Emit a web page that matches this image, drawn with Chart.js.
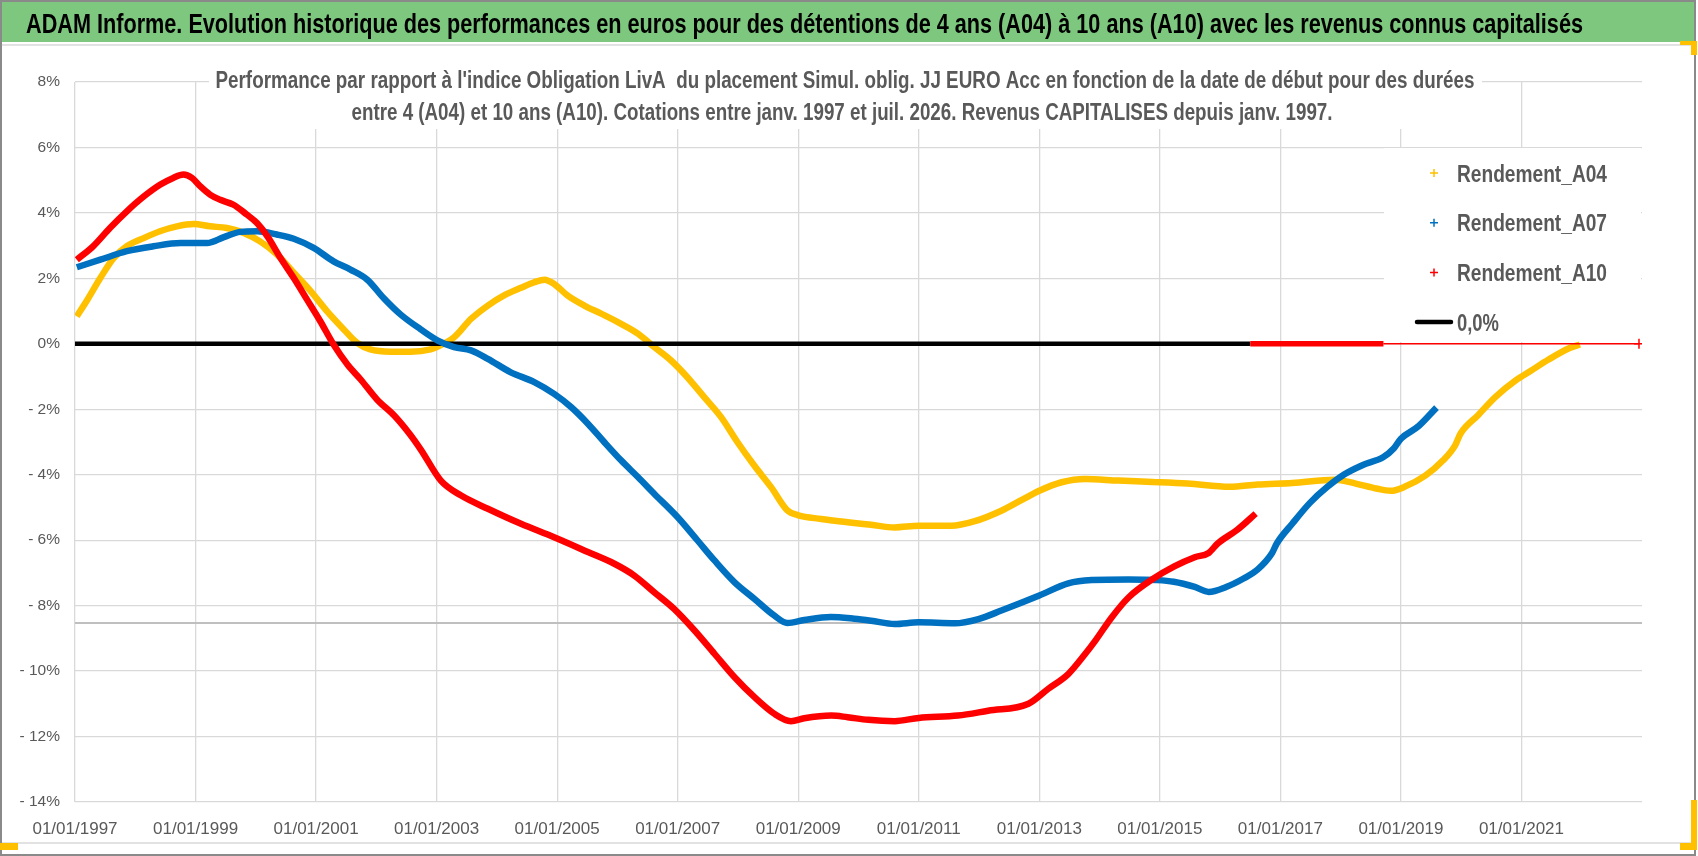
<!DOCTYPE html>
<html lang="fr">
<head>
<meta charset="utf-8">
<title>ADAM Informe - Rendements A04 / A07 / A10</title>
<script src="https://cdn.jsdelivr.net/npm/chart.js@4.4.1/dist/chart.umd.min.js"></script>
<style>
  html, body { margin: 0; padding: 0; background: #fff; }
  canvas { display: block; }
</style>
</head>
<body>
<canvas id="chart" width="1698" height="856"></canvas>
<script>
// ---- texts ----
const titleText = "ADAM Informe. Evolution historique des performances en euros pour des détentions de 4 ans (A04) à 10 ans (A10) avec les revenus connus capitalisés";
const subtitleLines = [
  "Performance par rapport à l'indice Obligation LivA  du placement Simul. oblig. JJ EURO Acc en fonction de la date de début pour des durées",
  "entre 4 (A04) et 10 ans (A10). Cotations entre janv. 1997 et juil. 2026. Revenus CAPITALISES depuis janv. 1997."
];

// ---- axes ----
const xTickYears = [1997, 1999, 2001, 2003, 2005, 2007, 2009, 2011, 2013, 2015, 2017, 2019, 2021];
const xTickLabels = ['01/01/1997', '01/01/1999', '01/01/2001', '01/01/2003', '01/01/2005', '01/01/2007',
  '01/01/2009', '01/01/2011', '01/01/2013', '01/01/2015', '01/01/2017', '01/01/2019', '01/01/2021'];
const yTickValues = [8, 6, 4, 2, 0, -2, -4, -6, -8, -10, -12, -14];
const yTickLabels = ['8%', '6%', '4%', '2%', '0%', '- 2%', '- 4%', '- 6%', '- 8%', '- 10%', '- 12%', '- 14%'];

// ---- series (start date as decimal year, performance in %) ----
const a04Years = [1997.03, 1997.19, 1997.42, 1997.64, 1997.86, 1998.14, 1998.41, 1998.69, 1998.97, 1999.24,
  1999.52, 1999.80, 2000.07, 2000.35, 2000.63, 2000.91, 2001.18, 2001.46, 2001.68, 2001.90,
  2002.24, 2002.57, 2002.90, 2003.00, 2003.29, 2003.57, 2003.85, 2004.12, 2004.40, 2004.62,
  2004.79, 2004.95, 2005.17, 2005.45, 2005.73, 2006.06, 2006.34, 2006.61, 2006.89, 2007.16,
  2007.44, 2007.72, 2007.99, 2008.27, 2008.55, 2008.82, 2009.00, 2009.38, 2009.82, 2010.21,
  2010.60, 2011.00, 2011.54, 2011.93, 2012.37, 2012.71, 2013.00, 2013.37, 2013.76, 2014.31,
  2014.88, 2015.46, 2016.16, 2016.62, 2017.20, 2017.90, 2018.25, 2018.59, 2018.83, 2019.06,
  2019.41, 2019.70, 2019.90, 2019.99, 2020.28, 2020.57, 2020.91, 2021.15, 2021.45, 2021.80, 2021.97];
const a04Values = [0.84, 1.30, 2.01, 2.62, 2.98, 3.23, 3.44, 3.59, 3.66, 3.59,
  3.54, 3.39, 3.13, 2.73, 2.17, 1.61, 1.00, 0.44, 0.03, -0.17,
  -0.24, -0.24, -0.17, -0.10, 0.20, 0.76, 1.17, 1.48, 1.71, 1.88,
  1.96, 1.83, 1.48, 1.17, 0.92, 0.61, 0.31, -0.10, -0.51, -1.02,
  -1.63, -2.24, -3.00, -3.72, -4.38, -5.09, -5.24, -5.35, -5.45, -5.53,
  -5.61, -5.56, -5.56, -5.42, -5.10, -4.77, -4.49, -4.23, -4.13, -4.18,
  -4.22, -4.27, -4.37, -4.30, -4.25, -4.15, -4.27, -4.42, -4.49, -4.37,
  -4.02, -3.56, -3.10, -2.74, -2.18, -1.62, -1.11, -0.83, -0.48, -0.13, -0.02];

const a07Years = [1997.03, 1997.42, 1997.86, 1998.30, 1998.75, 1999.19, 1999.47, 1999.74, 2000.02, 2000.35,
  2000.63, 2000.96, 2001.29, 2001.57, 2001.85, 2002.12, 2002.40, 2002.73, 2003.02, 2003.29,
  2003.57, 2003.85, 2004.23, 2004.62, 2004.95, 2005.23, 2005.51, 2005.78, 2006.06, 2006.34,
  2006.61, 2007.00, 2007.33, 2007.61, 2007.94, 2008.27, 2008.60, 2008.82, 2009.10, 2009.54,
  2009.93, 2010.21, 2010.60, 2011.00, 2011.60, 2011.99, 2012.37, 2013.00, 2013.48, 2013.87,
  2014.48, 2014.95, 2015.23, 2015.58, 2015.81, 2016.10, 2016.39, 2016.62, 2016.86, 2016.94,
  2017.20, 2017.49, 2017.78, 2018.07, 2018.36, 2018.71, 2018.88, 2019.00, 2019.29, 2019.59];
const a07Values = [2.34, 2.57, 2.83, 2.98, 3.08, 3.08, 3.26, 3.42, 3.44, 3.34,
  3.21, 2.93, 2.52, 2.27, 1.96, 1.40, 0.90, 0.45, 0.10, -0.10,
  -0.20, -0.46, -0.87, -1.17, -1.53, -1.93, -2.44, -3.00, -3.56, -4.07,
  -4.58, -5.30, -6.01, -6.62, -7.28, -7.79, -8.30, -8.53, -8.44, -8.35,
  -8.40, -8.46, -8.56, -8.51, -8.54, -8.41, -8.15, -7.69, -7.32, -7.22,
  -7.20, -7.22, -7.27, -7.43, -7.58, -7.43, -7.17, -6.90, -6.40, -6.10,
  -5.49, -4.86, -4.37, -3.98, -3.71, -3.46, -3.20, -2.90, -2.52, -1.95];

const a10Years = [1997.03, 1997.30, 1997.58, 1997.86, 1998.14, 1998.41, 1998.63, 1998.80, 1998.94, 1999.08,
  1999.24, 1999.41, 1999.63, 1999.85, 2000.02, 2000.19, 2000.41, 2000.63, 2000.85, 2001.07,
  2001.29, 2001.52, 2001.74, 2002.01, 2002.30, 2002.55, 2002.74, 2003.07, 2003.40, 2003.85,
  2004.40, 2004.95, 2005.51, 2005.95, 2006.28, 2006.61, 2006.94, 2007.28, 2007.61, 2007.94,
  2008.27, 2008.60, 2008.88, 2009.10, 2009.55, 2009.82, 2010.16, 2010.60, 2011.00, 2011.65,
  2012.15, 2012.82, 2013.15, 2013.48, 2013.76, 2013.93, 2014.20, 2014.48, 2014.87, 2015.24,
  2015.58, 2015.81, 2015.96, 2016.28, 2016.59];
const a10Values = [2.57, 2.98, 3.54, 4.05, 4.50, 4.86, 5.07, 5.17, 5.07, 4.81,
  4.56, 4.40, 4.25, 3.95, 3.69, 3.29, 2.62, 2.01, 1.35, 0.69,
  -0.02, -0.63, -1.09, -1.70, -2.20, -2.75, -3.24, -4.18, -4.63, -5.04,
  -5.50, -5.91, -6.36, -6.72, -7.08, -7.59, -8.10, -8.76, -9.47, -10.18,
  -10.79, -11.30, -11.53, -11.44, -11.36, -11.41, -11.49, -11.53, -11.43, -11.36,
  -11.21, -11.00, -10.54, -10.09, -9.48, -9.07, -8.36, -7.75, -7.20, -6.80,
  -6.52, -6.39, -6.10, -5.69, -5.19];

// later A10 points sitting on 0 (thick part then thin part)
const a10ZeroYears = [2016.50, 2018.71];
const a10ZeroValues = [0, 0];
const a10ThinYears = [2018.71, 2022.95];
const a10ThinValues = [0, 0];

// 0,0% reference series
const zeroYears = [1997.0, 2016.50];
const zeroValues = [0, 0];

// grey horizontal line
const greyYears = [1997.0, 2023.0];
const greyValues = [-8.53, -8.53];

// ---- style ----
const FONT = '"Liberation Sans Narrow", "Liberation Sans", Arial, sans-serif';
const YELLOW = '#FFC000', BLUE = '#0070C0', RED = '#FF0000';
const TEXT_GREY = '#595959';

// draw text at a given size, squeezed horizontally to a given width (Calibri-like look)
function squeezedText(c, text, weight, size, x, y, width, align) {
  c.font = weight + ' ' + size + 'px ' + FONT;
  const w = c.measureText(text).width;
  const sx = Math.min(1, width / w);
  c.save();
  c.textAlign = 'left';
  c.textBaseline = 'alphabetic';
  const left = align === 'center' ? x - (w * sx) / 2 : x;
  c.translate(left, y);
  c.scale(sx, 1);
  c.fillText(text, 0, 0);
  c.restore();
}

function pts(xs, ys) {
  return xs.map((x, i) => ({ x: x, y: ys[i] }));
}

const pageFrame = {
  id: 'pageFrame',
  beforeDraw(chart) {
    const c = chart.ctx;
    const W = chart.width, H = chart.height;
    c.save();
    c.fillStyle = '#fff';
    c.fillRect(0, 0, W, H);
    c.fillStyle = '#7dc77e';
    c.fillRect(2, 2, W - 5, 40);
    c.strokeStyle = '#d9d9d9';
    c.lineWidth = 1.5;
    c.beginPath();
    c.moveTo(2, 45); c.lineTo(W - 5, 45);
    c.moveTo(2, 843); c.lineTo(W - 5, 843);
    c.stroke();
    c.strokeStyle = '#8a8a8a';
    c.lineWidth = 2;
    c.strokeRect(1, 1, W - 4, H - 2);
    c.fillStyle = '#FFC000';
    c.fillRect(0, 843, 18, 7);
    c.fillRect(1680, 41, 17, 4);
    c.fillRect(1691, 41, 6, 14);
    c.fillRect(1691, 800, 6, 50);
    c.fillRect(1680, 843, 17, 7);
    // main title
    c.fillStyle = '#000';
    squeezedText(c, titleText, 'bold', 28, 26, 33, 1557, 'left');
    c.restore();
  },
  beforeDatasetsDraw(chart) {
    const c = chart.ctx;
    c.save();
    // subtitle box over the top of the plot
    c.fillStyle = '#fff';
    c.fillRect(209, 60, 1273, 69);
    c.fillStyle = TEXT_GREY;
    squeezedText(c, subtitleLines[0], 'bold', 23, 845, 88, 1259, 'center');
    squeezedText(c, subtitleLines[1], 'bold', 23, 842, 120, 981, 'center');
    // legend box
    c.fillStyle = '#fff';
    c.fillRect(1384, 148, 257, 194);
    const items = chart.data.datasets.filter(d => d.inLegend);
    items.forEach((d, i) => {
      const yMid = 173 + i * 49.7;
      c.strokeStyle = d.borderColor;
      c.beginPath();
      if (d.legendLine) {
        c.lineWidth = 4.5;
        c.lineCap = 'round';
        c.moveTo(1417, yMid);
        c.lineTo(1451, yMid);
      } else {
        c.lineWidth = 1.5;
        c.lineCap = 'butt';
        c.moveTo(1430, yMid); c.lineTo(1438, yMid);
        c.moveTo(1434, yMid - 4); c.lineTo(1434, yMid + 4);
      }
      c.stroke();
      c.fillStyle = TEXT_GREY;
      const wRef = d.legendLine ? 42 : 150;
      squeezedText(c, d.label, 'bold', 24, 1457, yMid + 8.7, wRef, 'left');
    });
    c.restore();
  }
};

const seriesLine = (label, xs, ys, color, width, order, extra) => Object.assign({
  label: label,
  data: pts(xs, ys),
  borderColor: color,
  backgroundColor: color,
  borderWidth: width,
  pointRadius: 0,
  fill: false,
  cubicInterpolationMode: 'monotone',
  order: order
}, extra || {});

new Chart(document.getElementById('chart'), {
  type: 'line',
  data: {
    datasets: [
      seriesLine('Rendement_A04', a04Years, a04Values, YELLOW, 6.5, 3, { inLegend: true }),
      seriesLine('Rendement_A07', a07Years, a07Values, BLUE, 6.5, 1, { inLegend: true }),
      seriesLine('Rendement_A10', a10Years, a10Values, RED, 6.5, 0, { inLegend: true }),
      seriesLine('0,0%', zeroYears, zeroValues, '#000', 4.5, 2, { inLegend: true, legendLine: true }),
      seriesLine('A10 zéro', a10ZeroYears, a10ZeroValues, RED, 5.5, 0),
      seriesLine('A10 zéro fin', a10ThinYears, a10ThinValues, RED, 1.5, 0,
        { pointRadius: [0, 5], pointStyle: 'cross', pointBorderWidth: 1.5 }),
      seriesLine('repère', greyYears, greyValues, '#bfbfbf', 2, 5)
    ]
  },
  options: {
    responsive: false,
    animation: false,
    devicePixelRatio: 1,
    layout: { padding: { top: 82, right: 56, left: 0, bottom: 0 } },
    plugins: {
      legend: { display: false },
      title: { display: false },
      tooltip: { enabled: false }
    },
    scales: {
      x: {
        type: 'linear',
        min: 1997,
        max: 2023,
        afterBuildTicks: scale => { scale.ticks = xTickYears.map(v => ({ value: v })); },
        afterFit: scale => { scale.height = 54; },
        grid: { color: '#d9d9d9', lineWidth: 1.3, drawTicks: false },
        border: { display: false },
        ticks: {
          autoSkip: false,
          maxRotation: 0,
          padding: 17,
          color: TEXT_GREY,
          font: { family: FONT, size: 17 },
          callback: v => xTickLabels[xTickYears.indexOf(v)]
        }
      },
      y: {
        min: -14,
        max: 8,
        afterBuildTicks: scale => { scale.ticks = yTickValues.map(v => ({ value: v })); },
        afterFit: scale => { scale.width = 75; },
        grid: { color: '#d9d9d9', lineWidth: 1.3, drawTicks: false },
        border: { display: false },
        ticks: {
          padding: 15,
          color: TEXT_GREY,
          font: { family: FONT, size: 15.5 },
          callback: v => yTickLabels[yTickValues.indexOf(v)]
        }
      }
    }
  },
  plugins: [pageFrame]
});
</script>
</body>
</html>
